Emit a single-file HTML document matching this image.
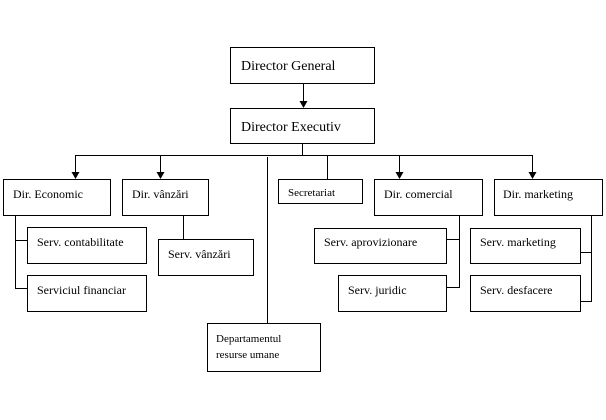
<!DOCTYPE html>
<html><head><meta charset="utf-8"><style>
html,body{margin:0;padding:0;background:#fff;}
svg{display:block;}
text{font-family:"Liberation Serif",serif;fill:#000;}
</style></head><body>
<svg width="606" height="420" viewBox="0 0 606 420" xmlns="http://www.w3.org/2000/svg">
<g fill="none" stroke="#000" stroke-width="1">
<rect x="230.5" y="47.5" width="144" height="36"/>
<rect x="230.5" y="108.5" width="144" height="35"/>
<line x1="303.5" y1="84" x2="303.5" y2="104"/>
<line x1="302.5" y1="144" x2="302.5" y2="155"/>
<line x1="75.5" y1="155.5" x2="532.5" y2="155.5"/>
<line x1="75.5" y1="155" x2="75.5" y2="175"/>
<line x1="160.5" y1="155" x2="160.5" y2="175"/>
<line x1="399.5" y1="155" x2="399.5" y2="175"/>
<line x1="532.5" y1="155" x2="532.5" y2="175"/>
<line x1="327.5" y1="155" x2="327.5" y2="179"/>
<line x1="267.5" y1="157" x2="267.5" y2="323"/>
<rect x="3.5" y="179.5" width="107" height="36"/>
<rect x="122.5" y="179.5" width="86" height="36"/>
<rect x="278.5" y="179.5" width="84" height="24"/>
<rect x="374.5" y="179.5" width="108" height="36"/>
<rect x="494.5" y="179.5" width="108" height="36"/>
<polyline points="15.5,216 15.5,288.5 27,288.5"/>
<line x1="15" y1="240.5" x2="27" y2="240.5"/>
<rect x="27.5" y="227.5" width="119" height="36"/>
<rect x="27.5" y="275.5" width="119" height="36"/>
<line x1="183.5" y1="216" x2="183.5" y2="239"/>
<rect x="158.5" y="239.5" width="95" height="36"/>
<polyline points="459.5,216 459.5,287.5 446,287.5"/>
<line x1="446" y1="239.5" x2="459" y2="239.5"/>
<rect x="314.5" y="228.5" width="132" height="35"/>
<rect x="338.5" y="275.5" width="108" height="36"/>
<polyline points="591.5,216 591.5,301.5 580,301.5"/>
<line x1="580" y1="252.5" x2="591" y2="252.5"/>
<rect x="470.5" y="228.5" width="110" height="35"/>
<rect x="470.5" y="275.5" width="110" height="36"/>
<rect x="207.5" y="323.5" width="113" height="48"/>
</g>
<g fill="#000">
<path d="M299.5,101 L307.5,101 L303.5,108 Z"/>
<path d="M71.5,172 L79.5,172 L75.5,179 Z"/>
<path d="M156.5,172 L164.5,172 L160.5,179 Z"/>
<path d="M395.5,172 L403.5,172 L399.5,179 Z"/>
<path d="M528.5,172 L536.5,172 L532.5,179 Z"/>
</g>
<g font-size="14">
<text x="241" y="70">Director General</text>
<text x="241" y="131">Director Executiv</text>
</g>
<g font-size="12">
<text x="13" y="198">Dir. Economic</text>
<text x="132" y="198">Dir. vânzări</text>
<text x="288" y="196" font-size="11">Secretariat</text>
<text x="384" y="198">Dir. comercial</text>
<text x="503" y="198">Dir. marketing</text>
<text x="37" y="246">Serv. contabilitate</text>
<text x="37" y="294">Serviciul financiar</text>
<text x="168" y="258">Serv. vânzări</text>
<text x="324" y="246">Serv. aprovizionare</text>
<text x="348" y="294">Serv. juridic</text>
<text x="480" y="246">Serv. marketing</text>
<text x="480" y="294">Serv. desfacere</text>
<text x="216" y="342" font-size="11">Departamentul</text>
<text x="216" y="358" font-size="11">resurse umane</text>
</g>
</svg>
</body></html>
